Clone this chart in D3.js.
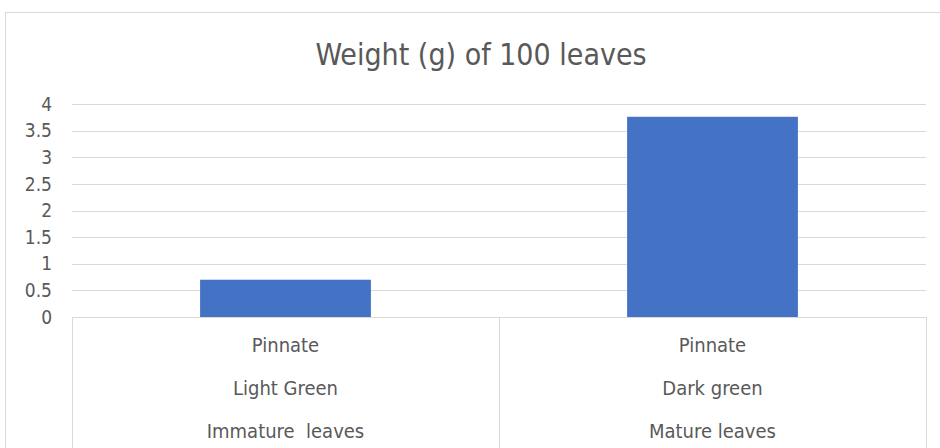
<!DOCTYPE html>
<meta charset="utf-8">
<style>
body { margin: 0; background: #fff; }
text { font-family: "Liberation Sans Narrow", "DejaVu Sans Condensed", "Open Sans", sans-serif; fill: #595959; white-space: pre; }
.grid line { stroke: #d9d9d9; }
</style>
<body>
<svg id="svg" width="940" height="448"></svg>
<script src="https://cdn.jsdelivr.net/npm/d3@7"></script>
<script>
// chart data
const categories = ["Immature  leaves", "Mature leaves"];
const colours = ["Light Green", "Dark green"];
const shapes = ["Pinnate", "Pinnate"];
const weights = [0.7, 3.76];
const yTicks = [0, 0.5, 1, 1.5, 2, 2.5, 3, 3.5, 4];
const yTickLabels = ["0", "0.5", "1", "1.5", "2", "2.5", "3", "3.5", "4"];

const svg = d3.select("#svg");
const margin = {left: 72, right: 14, top: 104, bottom: 131};
const width = 940 - margin.left - margin.right,
      height = 448 - margin.top - margin.bottom;

// outer chart frame
svg.append("rect")
  .attr("x", 5.5).attr("y", 12.5)
  .attr("width", 960).attr("height", 460)
  .attr("fill", "none").attr("stroke", "#d9d9d9");

svg.append("text")
  .attr("x", 481).attr("y", 65)
  .attr("text-anchor", "middle")
  .style("font-size", "30px")
  .text("Weight (g) of 100 leaves");

const g = svg.append("g").attr("transform", "translate(" + margin.left + "," + margin.top + ")");

const x = d3.scaleBand().domain(categories).range([0, width]).paddingInner(0).paddingOuter(0);
const y = d3.scaleLinear().domain([0, 4]).range([height, 0]);

// gridlines
g.append("g").attr("class", "grid")
  .selectAll("line").data(yTicks.slice(1)).enter().append("line")
  .attr("x1", 0).attr("x2", width)
  .attr("y1", d => Math.round(y(d)) + 0.5).attr("y2", d => Math.round(y(d)) + 0.5);

// y tick labels
g.selectAll(".ylab").data(yTicks).enter().append("text")
  .attr("class", "ylab")
  .attr("x", -20).attr("y", d => y(d))
  .attr("dy", "0.35em")
  .attr("text-anchor", "end")
  .style("font-size", "19px")
  .text((d, i) => yTickLabels[i]);

// bars
const barW = x.bandwidth() * 0.4;
g.selectAll(".bar").data(weights).enter().append("rect")
  .attr("class", "bar")
  .attr("x", (d, i) => x(categories[i]) + (x.bandwidth() - barW) / 2)
  .attr("width", barW)
  .attr("y", d => y(d))
  .attr("height", d => height - y(d))
  .attr("fill", "#4472c4");

// category table
const tbl = g.append("g").attr("transform", "translate(0," + height + ")");
tbl.append("line").attr("x1", 0).attr("x2", width).attr("y1", 0.5).attr("y2", 0.5).attr("stroke", "#d9d9d9");
[0, width / 2, width].forEach(xx => {
  tbl.append("line").attr("x1", Math.round(xx) + 0.5).attr("x2", Math.round(xx) + 0.5)
    .attr("y1", 0).attr("y2", 140).attr("stroke", "#d9d9d9");
});
const rows = [shapes, colours, categories];
rows.forEach((row, r) => {
  tbl.selectAll(".row" + r).data(row).enter().append("text")
    .attr("x", (d, i) => x(categories[i]) + x.bandwidth() / 2)
    .attr("y", 28 + r * 43)
    .attr("dy", "0.35em")
    .attr("text-anchor", "middle")
    .style("font-size", "20px")
    .text(d => d);
});
</script>
</body>
